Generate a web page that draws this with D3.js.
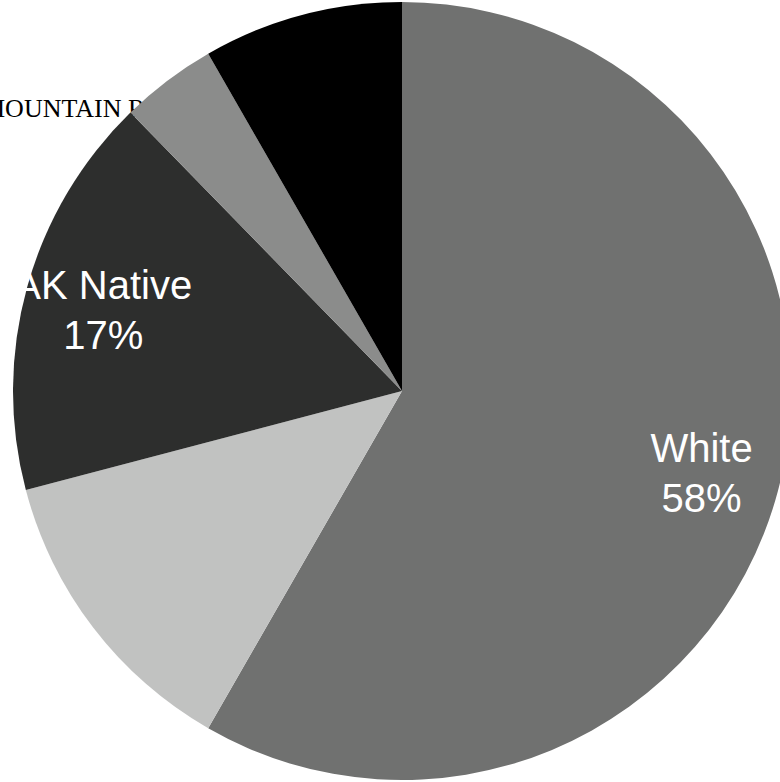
<!DOCTYPE html>
<html>
<head>
<meta charset="utf-8">
<script src="https://cdn.jsdelivr.net/npm/d3@7/dist/d3.min.js"></script>
<style>
  html, body { margin: 0; padding: 0; background: #fff; overflow: hidden; }
  svg { display: block; }
</style>
</head>
<body>
<svg id="chart" width="780" height="782"></svg>
<script>
// Data (clockwise from 12 o'clock), percentages
const categories = ["White", "Hispanic", "AK Native", "Black", "Other"];
const values = [58.3, 12.6, 16.8, 4.0, 8.3];
const colors = ["#707170", "#c1c2c1", "#2d2e2d", "#8b8c8b", "#000000"];
const labelled = ["White", "AK Native"];
const title = "MOUNTAIN REGION";

const svg = d3.select("#chart");
const cx = 402, cy = 391, r = 389;

// Title (sits behind the pie)
svg.append("text")
  .attr("x", -18).attr("y", 117)
  .attr("font-family", "'Liberation Serif', 'Times New Roman', serif")
  .attr("font-size", 26)
  .attr("fill", "#000")
  .text(title);

const pie = d3.pie().sort(null).value(d => d.value);
const data = categories.map((c, i) => ({ name: c, value: values[i], color: colors[i] }));
const arcs = pie(data);

const arc = d3.arc().innerRadius(0).outerRadius(r);
const labelArc = d3.arc().innerRadius(310).outerRadius(310);

const g = svg.append("g").attr("transform", `translate(${cx},${cy})`);

g.selectAll("path.slice")
  .data(arcs)
  .join("path")
  .attr("class", "slice")
  .attr("d", arc)
  .attr("fill", d => d.data.color);

const lab = g.selectAll("g.label")
  .data(arcs.filter(d => labelled.includes(d.data.name)))
  .join("g")
  .attr("class", "label")
  .attr("transform", d => `translate(${labelArc.centroid(d)})`);

lab.append("text")
  .attr("text-anchor", "middle")
  .attr("y", -9)
  .attr("font-family", "'Liberation Sans', Arial, Helvetica, sans-serif")
  .attr("font-size", 40)
  .attr("fill", "#fff")
  .text(d => d.data.name);

lab.append("text")
  .attr("text-anchor", "middle")
  .attr("y", 41)
  .attr("font-family", "'Liberation Sans', Arial, Helvetica, sans-serif")
  .attr("font-size", 40)
  .attr("fill", "#fff")
  .text(d => Math.round(d.data.value) + "%");
</script>
</body>
</html>
